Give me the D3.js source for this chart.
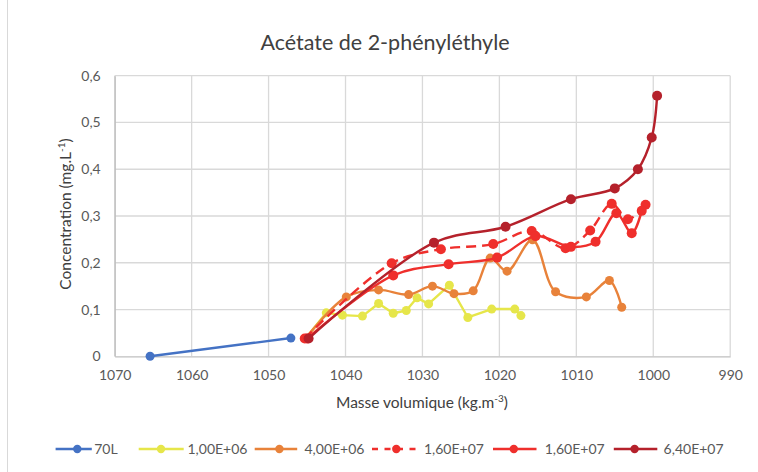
<!DOCTYPE html>
<html>
<head>
<meta charset="utf-8">
<script src="https://cdn.jsdelivr.net/npm/d3@7/dist/d3.min.js"></script>
<style>
  html, body { margin: 0; padding: 0; background: #fff; }
  svg { display: block; font-family: Lato, "Open Sans", sans-serif; }
</style>
</head>
<body>
<svg id="chart" width="758" height="472"></svg>
<script>
// Density (kg/m3) and concentration (mg/L) for each inoculation level
const dens70L = [1065.4, 1047.1];
const conc70L = [0.0, 0.039];

const dens1E6 = [1045.2, 1042.5, 1040.4, 1037.8, 1035.7, 1033.8, 1032.1, 1030.7, 1029.2, 1026.5, 1024.1, 1021.0, 1018.0, 1017.2];
const conc1E6 = [0.038, 0.093, 0.088, 0.086, 0.113, 0.092, 0.098, 0.125, 0.112, 0.152, 0.083, 0.101, 0.101, 0.087];

const dens4E6 = [1045.2, 1039.9, 1035.7, 1031.8, 1028.7, 1025.9, 1023.4, 1021.2, 1019.0, 1015.7, 1012.7, 1008.7, 1005.7, 1004.1];
const conc4E6 = [0.038, 0.127, 0.142, 0.132, 0.150, 0.134, 0.140, 0.210, 0.182, 0.249, 0.138, 0.127, 0.162, 0.105];

const dens16E7a = [1045.3, 1034.0, 1027.6, 1020.8, 1015.8, 1011.4, 1008.2, 1005.4, 1003.3, 1001.0];
const conc16E7a = [0.038, 0.199, 0.229, 0.240, 0.268, 0.231, 0.269, 0.326, 0.293, 0.324];

const dens16E7b = [1045.0, 1033.8, 1026.6, 1020.3, 1015.3, 1010.7, 1007.5, 1004.8, 1002.8, 1001.5];
const conc16E7b = [0.038, 0.173, 0.197, 0.211, 0.257, 0.234, 0.245, 0.306, 0.263, 0.311];

const dens64E7 = [1044.8, 1028.5, 1019.2, 1010.7, 1005.0, 1002.0, 1000.2, 999.5];
const conc64E7 = [0.038, 0.243, 0.277, 0.336, 0.359, 0.400, 0.468, 0.557];

const seriesNames = ["70L", "1,00E+06", "4,00E+06", "1,60E+07", "1,60E+07", "6,40E+07"];
const xTicks = [1070, 1060, 1050, 1040, 1030, 1020, 1010, 1000, 990];
const yTicks = [0, 0.1, 0.2, 0.3, 0.4, 0.5, 0.6];

const chartTitle = "Acétate de 2-phényléthyle";

// Series styling
const styles = [
  { color: "#4472c4", dash: null, smooth: false, r: 4.5 },
  { color: "#e6e64a", dash: null, smooth: false, r: 4.5 },
  { color: "#e8823a", dash: null, smooth: true,  r: 4.5 },
  { color: "#ef2f2c", dash: "10,6", smooth: true, r: 5 },
  { color: "#ef2f2c", dash: null, smooth: true,  r: 5 },
  { color: "#b5212b", dash: null, smooth: true,  r: 5 }
];

const allDens = [dens70L, dens1E6, dens4E6, dens16E7a, dens16E7b, dens64E7];
const allConc = [conc70L, conc1E6, conc4E6, conc16E7a, conc16E7b, conc64E7];
const series = seriesNames.map((name, i) => ({
  name,
  style: styles[i],
  points: allDens[i].map((d, j) => ({ d, c: allConc[i][j] }))
}));

const svg = d3.select("#chart");

// Outer chart border (left edge)
svg.append("line")
  .attr("x1", 7.5).attr("x2", 7.5).attr("y1", 0).attr("y2", 472)
  .attr("stroke", "#d9d9d9").attr("stroke-width", 1);

const x = d3.scaleLinear().domain([1070, 990]).range([114.7, 730.2]);
const y = d3.scaleLinear().domain([0, 0.6]).range([356.3, 75.7]);

const fmt = d => d === 0 ? "0" : d3.format(".1f")(d).replace(".", ",");

// Gridlines
const grid = svg.append("g");
grid.selectAll(".hg").data(yTicks.slice(1)).join("line")
  .attr("x1", x.range()[0]).attr("x2", x.range()[1])
  .attr("y1", d => y(d)).attr("y2", d => y(d))
  .attr("stroke", "#d9d9d9").attr("stroke-width", 1.3);
grid.selectAll(".vg").data(xTicks).join("line")
  .attr("x1", d => x(d)).attr("x2", d => x(d))
  .attr("y1", y(0)).attr("y2", y(0.6))
  .attr("stroke", "#d9d9d9").attr("stroke-width", 1.3);

// Axes
const xAxis = d3.axisBottom(x).tickValues(xTicks).tickSize(0).tickPadding(14).tickFormat(d3.format("d"));
const gx = svg.append("g").attr("transform", `translate(0,${y(0)})`).call(xAxis);
gx.select(".domain").attr("stroke", "#bfbfbf").attr("stroke-width", 1.3);
gx.selectAll("text").attr("fill", "#595959").attr("font-size", 14).attr("font-family", "Lato");

const yAxis = d3.axisLeft(y).tickValues(yTicks).tickSize(0).tickPadding(14).tickFormat(fmt);
const gy = svg.append("g").attr("transform", `translate(${x(1070)},0)`).call(yAxis);
gy.select(".domain").attr("stroke", "#bfbfbf").attr("stroke-width", 1.3);
gy.selectAll("text").attr("fill", "#595959").attr("font-size", 14).attr("font-family", "Lato");

// Series lines and markers
const lineLinear = d3.line().x(p => x(p.d)).y(p => y(p.c));
const lineSmooth = d3.line().x(p => x(p.d)).y(p => y(p.c)).curve(d3.curveCatmullRom.alpha(0.5));

const plot = svg.append("g");
series.forEach(s => {
  const g = plot.append("g");
  g.append("path")
    .attr("d", (s.style.smooth ? lineSmooth : lineLinear)(s.points))
    .attr("fill", "none")
    .attr("stroke", s.style.color)
    .attr("stroke-width", 2.4)
    .attr("stroke-linejoin", "round")
    .attr("stroke-linecap", s.style.dash ? "butt" : "round")
    .attr("stroke-dasharray", s.style.dash);
  g.selectAll("circle").data(s.points).join("circle")
    .attr("cx", p => x(p.d)).attr("cy", p => y(p.c))
    .attr("r", s.style.r)
    .attr("fill", s.style.color);
});

// Title
svg.append("text")
  .attr("x", 385).attr("y", 50)
  .attr("text-anchor", "middle")
  .attr("font-size", 21.5)
  .attr("fill", "#404040")
  .text(chartTitle);

// Axis titles
const xt = svg.append("text")
  .attr("x", 422).attr("y", 408)
  .attr("text-anchor", "middle")
  .attr("font-size", 15.5)
  .attr("fill", "#404040");
xt.append("tspan").text("Masse volumique (kg.m");
xt.append("tspan").attr("font-size", 10).attr("dy", -6).text("-3");
xt.append("tspan").attr("dy", 6).text(")");

const yt = svg.append("text")
  .attr("transform", "translate(71,214) rotate(-90)")
  .attr("text-anchor", "middle")
  .attr("font-size", 15.5)
  .attr("fill", "#404040");
yt.append("tspan").text("Concentration (mg.L");
yt.append("tspan").attr("font-size", 10).attr("dy", -6).text("-1");
yt.append("tspan").attr("dy", 6).text(")");

// Legend
const legendY = 449;
const legendItems = [
  { x0: 55.6, x1: 91.8, mx: 77.3, tx: 94.2 },
  { x0: 138.7, x1: 183.7, mx: 161, tx: 187.5 },
  { x0: 254.7, x1: 297.2, mx: 279.4, tx: 304.5 },
  { x0: 372, x1: 415.7, mx: 396.3, tx: 423.9 },
  { x0: 493, x1: 536.5, mx: 513.8, tx: 544.7 },
  { x0: 613.8, x1: 657.3, mx: 634.6, tx: 663.6 }
];
const legend = svg.append("g");
series.forEach((s, i) => {
  const it = legendItems[i];
  const g = legend.append("g");
  g.append("line")
    .attr("x1", it.x0).attr("x2", it.x1).attr("y1", legendY).attr("y2", legendY)
    .attr("stroke", s.style.color).attr("stroke-width", 2.4)
    .attr("stroke-dasharray", s.style.dash ? "6,6.5" : null);
  g.append("circle").attr("cx", it.mx).attr("cy", legendY).attr("r", 4.2).attr("fill", s.style.color);
  g.append("text")
    .attr("x", it.tx).attr("y", legendY + 5)
    .attr("font-size", 14)
    .attr("fill", "#595959")
    .text(s.name);
});
</script>
</body>
</html>
